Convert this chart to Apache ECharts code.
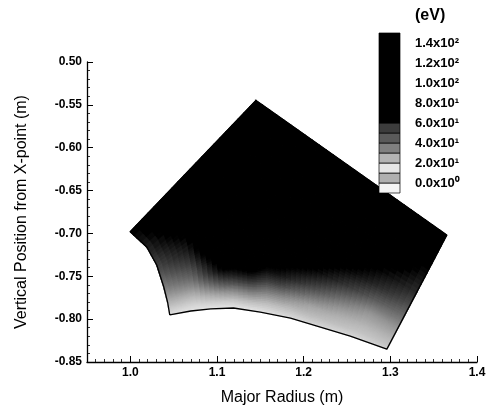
<!DOCTYPE html>
<html>
<head>
<meta charset="utf-8">
<script src="https://cdn.jsdelivr.net/npm/echarts@6/dist/echarts.min.js"></script>
<style>
  html, body { margin: 0; padding: 0; background: #fff; }
  #chart { width: 490px; height: 414px; }
</style>
</head>
<body>
<div id="chart"></div>
<script>
// Boundary of the computational domain (major radius R, vertical position Z), metres
const bottomEdge = [[1.0455, -0.795], [1.0697, -0.7905], [1.0927, -0.788], [1.119, -0.787], [1.150, -0.7917],
                    [1.1848, -0.7987], [1.2193, -0.8092], [1.2538, -0.8197], [1.296, -0.835]];
const topEdge = [[1.0, -0.698], [1.145, -0.545], [1.365, -0.702]];
const leftEdge = [[1.0455, -0.795], [1.0432, -0.7812], [1.0386, -0.7625], [1.0305, -0.7369], [1.019, -0.7159], [1.0, -0.698]];
const rightEdge = [[1.296, -0.835], [1.365, -0.702]];

// Logical mesh coordinates (s along the target, t from target towards the core)
const meshS = [0, 0.125, 0.25, 0.375, 0.5, 0.625, 0.75, 0.875, 1];
const meshT = [0, 0.05, 0.1, 0.15, 0.2, 0.25, 0.3, 0.4, 0.5, 0.7, 1.0];
// Electron temperature (eV) on the mesh nodes, one list per s column
const teNodes = [
  [6, 10, 14, 18, 22, 26, 30, 36, 42, 50, 58],
  [5, 9, 14, 20, 27, 33, 38, 47, 54, 66, 85],
  [4, 12, 23, 37, 49, 60, 66, 78, 88, 103, 120],
  [4, 15, 31, 47, 60, 68, 76, 89, 98, 115, 133],
  [6, 15, 28, 43, 55, 63, 71, 85, 95, 115, 138],
  [8, 15, 21, 32, 43, 52, 60, 72, 84, 102, 128],
  [8, 14, 18, 24, 32, 40, 48, 60, 70, 87, 115],
  [8, 13, 16, 20, 24, 31, 38, 50, 58, 75, 100],
  [10, 14, 17, 21, 25, 30, 34, 42, 49, 58, 75]
];

// Contour legend
const legendLevels = [-10, 0, 10, 20, 30, 40, 50, 60, 70, 80, 90, 100, 110, 120, 130, 140, 150];
const legendShades = ['#f4f4f4', '#b0b0b0', '#e6e6e6', '#b4b4b4', '#808080', '#5a5a5a', '#3c3c3c',
                      '#000', '#000', '#000', '#000', '#000', '#000', '#000', '#000', '#000'];
const legendTicks = [0, 20, 40, 60, 80, 100, 120, 140];
const legendTickLabels = ['0.0x10\u2070', '2.0x10\u00b9', '4.0x10\u00b9', '6.0x10\u00b9', '8.0x10\u00b9',
                          '1.0x10\u00b2', '1.2x10\u00b2', '1.4x10\u00b2'];

// Axis ticks
const xTicks = [1.0, 1.1, 1.2, 1.3, 1.4];
const xTickLabels = ['1.0', '1.1', '1.2', '1.3', '1.4'];
const yTicks = [-0.85, -0.80, -0.75, -0.70, -0.65, -0.60, -0.55, -0.50];
const yTickLabels = ['-0.85', '-0.80', '-0.75', '-0.70', '-0.65', '-0.60', '-0.55', '0.50'];

const FONT = '"Liberation Sans", Arial, Helvetica, sans-serif';

// Arc-length parametrised polyline
function makeCurve(pts) {
  const cum = [0];
  for (let i = 1; i < pts.length; i++) {
    cum.push(cum[i - 1] + Math.hypot(pts[i][0] - pts[i - 1][0], pts[i][1] - pts[i - 1][1]));
  }
  const total = cum[cum.length - 1];
  return function (u) {
    const d = Math.min(Math.max(u, 0), 1) * total;
    let k = 1;
    while (k < pts.length - 1 && cum[k] < d) k++;
    const f = (d - cum[k - 1]) / (cum[k] - cum[k - 1] || 1);
    return [pts[k - 1][0] + f * (pts[k][0] - pts[k - 1][0]), pts[k - 1][1] + f * (pts[k][1] - pts[k - 1][1])];
  };
}
const curveB = makeCurve(bottomEdge), curveT = makeCurve(topEdge);
const curveL = makeCurve(leftEdge), curveR = makeCurve(rightEdge);
const c00 = bottomEdge[0], c10 = bottomEdge[bottomEdge.length - 1];
const c01 = topEdge[0], c11 = topEdge[topEdge.length - 1];

// Coons patch: logical (s, t) -> physical (R, Z)
function meshPoint(s, t) {
  const b = curveB(s), tp = curveT(s), l = curveL(t), r = curveR(t);
  return [0, 1].map(k => (1 - t) * b[k] + t * tp[k] + (1 - s) * l[k] + s * r[k]
    - ((1 - s) * (1 - t) * c00[k] + s * (1 - t) * c10[k] + (1 - s) * t * c01[k] + s * t * c11[k]));
}

function teShade(v) {
  const f = Math.min(Math.max(v / 60, 0), 1);
  const g = Math.round(250 * (1 - f));
  return 'rgb(' + g + ',' + g + ',' + g + ')';
}

// One item per mesh cell
const cells = [];
for (let i = 0; i < meshS.length - 1; i++) {
  for (let j = 0; j < meshT.length - 1; j++) {
    const c = meshPoint((meshS[i] + meshS[i + 1]) / 2, (meshT[j] + meshT[j + 1]) / 2);
    cells.push([c[0], c[1], i, j]);
  }
}

// Flood fill of one cell, split into sub-quads shaded from the corner values
function renderCell(params, api) {
  const i = api.value(2), j = api.value(3);
  const N = 6;
  const v00 = teNodes[i][j], v10 = teNodes[i + 1][j], v01 = teNodes[i][j + 1], v11 = teNodes[i + 1][j + 1];
  const children = [];
  const sAt = u => meshS[i] + u * (meshS[i + 1] - meshS[i]);
  const tAt = w => meshT[j] + w * (meshT[j + 1] - meshT[j]);
  for (let a = 0; a < N; a++) {
    for (let b = 0; b < N; b++) {
      const u0 = a / N, u1 = (a + 1) / N, w0 = b / N, w1 = (b + 1) / N;
      const pts = [[u0, w0], [u1, w0], [u1, w1], [u0, w1]].map(p => api.coord(meshPoint(sAt(p[0]), tAt(p[1]))));
      const uc = (u0 + u1) / 2, wc = (w0 + w1) / 2;
      const v = (1 - uc) * (1 - wc) * v00 + uc * (1 - wc) * v10 + (1 - uc) * wc * v01 + uc * wc * v11;
      const col = teShade(v);
      children.push({ type: 'polygon', shape: { points: pts }, style: { fill: col, stroke: col, lineWidth: 1.4 } });
    }
  }
  return { type: 'group', children: children };
}

const outline = [].concat(bottomEdge, rightEdge.slice(1), topEdge.slice().reverse().slice(1), leftEdge.slice().reverse().slice(1));

const legendBands = legendShades.map((c, k) => [0.5, (legendLevels[k] + legendLevels[k + 1]) / 2, legendLevels[k], legendLevels[k + 1], k]);

function nearestLabel(values, labels, v) {
  let best = 0;
  values.forEach((x, k) => { if (Math.abs(x - v) < Math.abs(values[best] - v)) best = k; });
  return labels[best];
}

const tickFont = { fontFamily: FONT, fontSize: 12, fontWeight: 'bold', color: '#000' };

const chart = echarts.init(document.getElementById('chart'), null, { renderer: 'canvas' });
chart.setOption({
  backgroundColor: '#fff',
  animation: false,
  title: {
    text: '(eV)', left: 415, top: 8, padding: 0,
    textStyle: { fontFamily: FONT, fontSize: 16, fontWeight: 'bold', color: '#000' }
  },
  grid: [
    { left: 87, top: 62, width: 390, height: 300 },
    { left: 379, top: 33, width: 21, height: 160 }
  ],
  xAxis: [
    {
      type: 'value', gridIndex: 0, min: 0.95, max: 1.4, position: 'bottom',
      name: 'Major Radius (m)', nameLocation: 'middle', nameGap: 28,
      nameTextStyle: { fontFamily: FONT, fontSize: 16, color: '#000' },
      axisLine: { lineStyle: { color: '#000', width: 1.3 } },
      axisTick: { inside: true, length: 6, customValues: xTicks, lineStyle: { color: '#000', width: 1 } },
      axisLabel: { customValues: xTicks, margin: 5, ...tickFont,
        formatter: v => nearestLabel(xTicks, xTickLabels, v) },
      splitLine: { show: false }
    },
    {
      type: 'value', gridIndex: 0, min: 0.95, max: 1.4, interval: 0.01, position: 'bottom',
      axisLine: { show: false },
      axisTick: { inside: true, length: 3, lineStyle: { color: '#000', width: 0.8 } },
      axisLabel: { show: false }, splitLine: { show: false }
    },
    { type: 'value', gridIndex: 1, min: 0, max: 1, show: false }
  ],
  yAxis: [
    {
      type: 'value', gridIndex: 0, min: -0.85, max: -0.5, interval: 0.05, position: 'left',
      name: 'Vertical Position from X-point (m)', nameLocation: 'middle', nameGap: 57,
      nameTextStyle: { fontFamily: FONT, fontSize: 16, color: '#000' },
      axisLine: { show: true, lineStyle: { color: '#000', width: 1.3 } },
      axisTick: { show: true, inside: true, length: 6, lineStyle: { color: '#000', width: 1 } },
      axisLabel: { margin: 5, ...tickFont, formatter: v => nearestLabel(yTicks, yTickLabels, v) },
      splitLine: { show: false }
    },
    {
      type: 'value', gridIndex: 0, min: -0.85, max: -0.5, interval: 0.01, position: 'left',
      axisLine: { show: false },
      axisTick: { show: true, inside: true, length: 3, lineStyle: { color: '#000', width: 0.8 } },
      axisLabel: { show: false }, splitLine: { show: false }
    },
    {
      type: 'value', gridIndex: 1, min: -10, max: 150, position: 'right',
      axisLine: { show: false }, axisTick: { show: false }, splitLine: { show: false },
      axisLabel: { customValues: legendTicks, margin: 15, fontFamily: FONT, fontSize: 13, fontWeight: 'bold', color: '#000',
        formatter: v => nearestLabel(legendTicks, legendTickLabels, v) }
    }
  ],
  series: [
    {
      type: 'custom', name: 'Te', xAxisIndex: 0, yAxisIndex: 0,
      data: cells, encode: { x: 0, y: 1 },
      renderItem: renderCell, silent: true, z: 2
    },
    {
      type: 'line', name: 'boundary', xAxisIndex: 0, yAxisIndex: 0,
      data: outline, showSymbol: false, symbol: 'none',
      lineStyle: { color: '#000', width: 1.3 }, silent: true, z: 3
    },
    {
      type: 'custom', name: 'legend', xAxisIndex: 2, yAxisIndex: 2,
      data: legendBands, encode: { x: 0, y: 1 },
      renderItem: function (params, api) {
        const p0 = api.coord([0, api.value(3)]);
        const p1 = api.coord([1, api.value(2)]);
        const col = legendShades[api.value(4)];
        return { type: 'rect', shape: { x: p0[0], y: p0[1], width: p1[0] - p0[0], height: p1[1] - p0[1] },
                 style: { fill: col, stroke: '#000', lineWidth: 0.7 } };
      },
      silent: true, z: 5
    }
  ]
});
</script>
</body>
</html>
